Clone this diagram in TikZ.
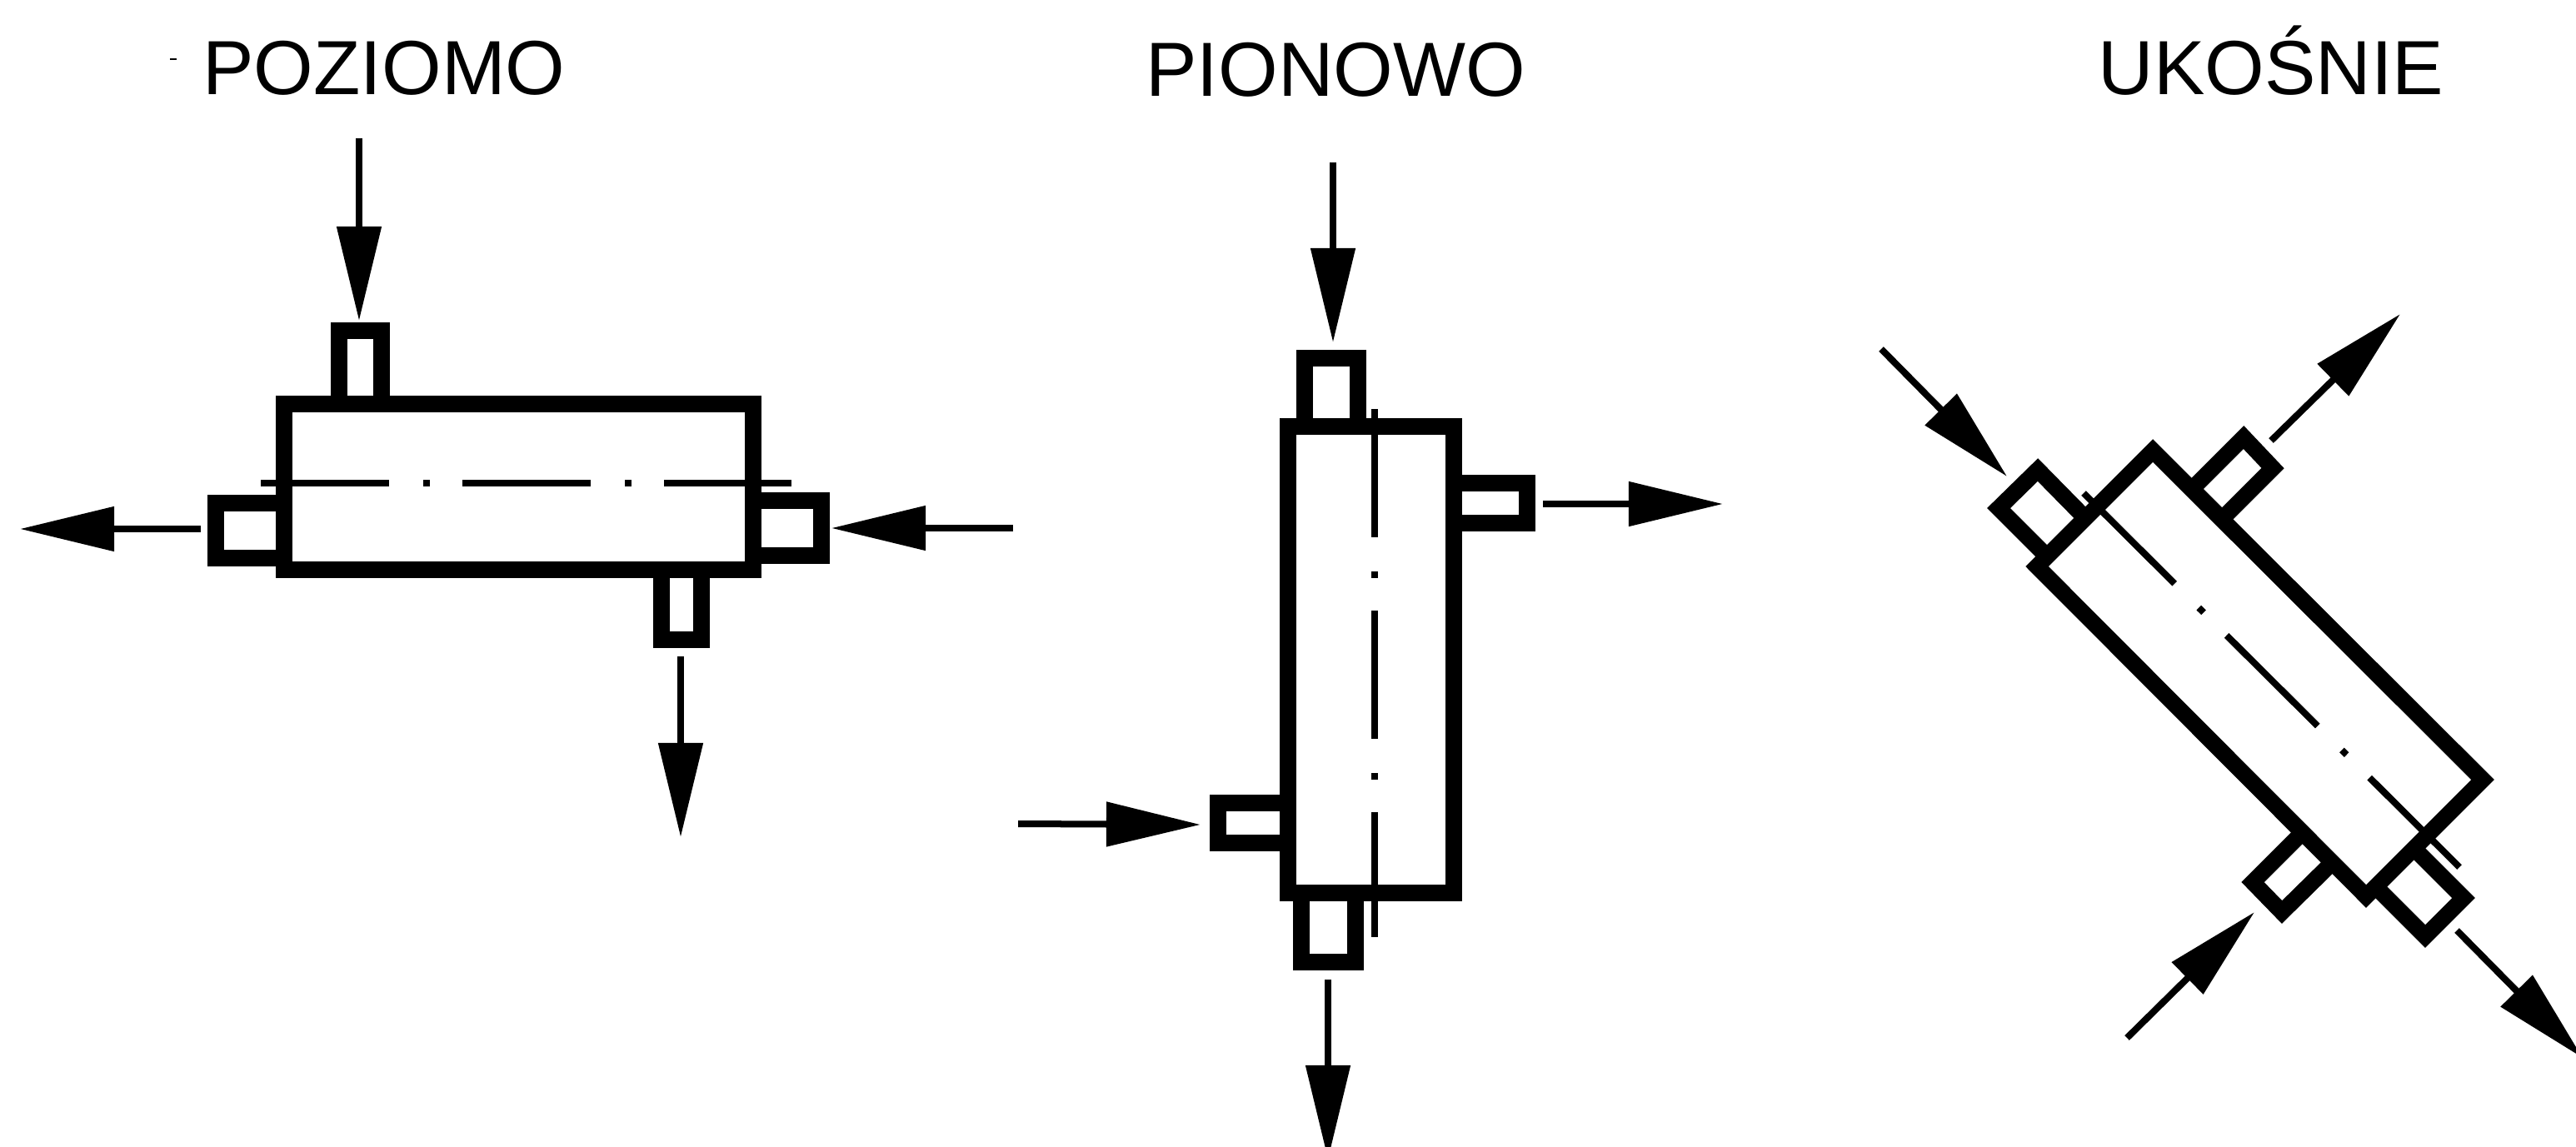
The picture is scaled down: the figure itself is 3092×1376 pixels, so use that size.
\documentclass[tikz,border=0pt]{standalone}
\usepackage{fontspec}
\setmainfont{Liberation Sans}
\usetikzlibrary{arrows.meta}

\begin{document}
\begin{tikzpicture}[x=0.01cm,y=-0.01cm,
        body/.style={line width=0.195cm,line join=miter,fill=white},
        axis/.style={line width=0.08cm,dash pattern=on 1.54cm off 0.41cm on 0.08cm off 0.39cm},
        flow/.style={line width=0.08cm,-{Triangle[length=1.13cm,width=0.52cm]}},
        heading/.style={anchor=base,font=\fontsize{26.2}{30}\selectfont}]
                \useasboundingbox (0,0) rectangle (3092,1376);
                \fill (204,70) rectangle (212,72);

                \node[heading] (poziomo) at (461,114) {POZIOMO};
                \node[heading] (pionowo) at (1603,116) {PIONOWO};
                \node[heading] (ukosnie) at (2726,114) {UKOŚNIE};

                \draw[body] (407,397) rectangle (458,485);
                \draw[body] (259,604) rectangle (341,670);
                \draw[body] (904,601) rectangle (986,667);
                \draw[body] (794,684) rectangle (842,768);
                \draw[body] (341,485) rectangle (904,684);
                \draw[axis] (313,580) -- (950,580);

                \coordinate (poziomoInA) at (431,166);
                \coordinate (poziomoInB) at (431,385);
                \coordinate (poziomoInC) at (1216,634);
                \coordinate (poziomoInD) at (998,634);
                \coordinate (poziomoOutA) at (241,635);
                \coordinate (poziomoOutB) at (24,635);
                \coordinate (poziomoOutC) at (817,788);
                \coordinate (poziomoOutD) at (817,1005);
                \draw[flow] (poziomoInA) -- (poziomoInB);
                \draw[flow] (poziomoInC) -- (poziomoInD);
                \draw[flow] (poziomoOutA) -- (poziomoOutB);
                \draw[flow] (poziomoOutC) -- (poziomoOutD);

                \draw[body] (1566,430) rectangle (1630,512);
                \draw[body] (1745,580) rectangle (1833,628);
                \draw[body] (1462,964) rectangle (1546,1012);
                \draw[body] (1562,1072) rectangle (1627,1155);
                \draw[body] (1546,512) rectangle (1745,1072);
                \draw[axis] (1650,491) -- (1650,1125);

                \coordinate (pionowoInA) at (1600,195);
                \coordinate (pionowoInB) at (1600,411);
                \coordinate (pionowoInC) at (1222,989);
                \coordinate (pionowoInD) at (1441,990);
                \coordinate (pionowoOutA) at (1852,605);
                \coordinate (pionowoOutB) at (2068,605);
                \coordinate (pionowoOutC) at (1594,1176);
                \coordinate (pionowoOutD) at (1594,1392);
                \draw[flow] (pionowoInA) -- (pionowoInB);
                \draw[flow] (pionowoInC) -- (pionowoInD);
                \draw[flow] (pionowoOutA) -- (pionowoOutB);
                \draw[flow] (pionowoOutC) -- (pionowoOutD);

                \draw[body] (2399,610) -- (2446,564) -- (2503,622) -- (2457,668) -- cycle;
                \draw[body] (2693,525) -- (2728,562) -- (2667,623) -- (2631,587) -- cycle;
                \draw[body] (2704,1059) -- (2739,1095) -- (2800,1035) -- (2764,999) -- cycle;
                \draw[body] (2957,1078) -- (2911,1124) -- (2851,1064) -- (2897,1018) -- cycle;
                \draw[body] (2584,541) -- (2980,936) -- (2840,1076) -- (2445,680) -- cycle;
                \draw[axis] (2501,592) -- (2952,1041);

                \coordinate (ukosnieInA) at (2258,419);
                \coordinate (ukosnieInB) at (2409,572);
                \coordinate (ukosnieInC) at (2553,1246);
                \coordinate (ukosnieInD) at (2706,1095);
                \coordinate (ukosnieOutA) at (2726,529);
                \coordinate (ukosnieOutB) at (2881,377);
                \coordinate (ukosnieOutC) at (2949,1117);
                \coordinate (ukosnieOutD) at (3100,1270);
                \draw[flow] (ukosnieInA) -- (ukosnieInB);
                \draw[flow] (ukosnieInC) -- (ukosnieInD);
                \draw[flow] (ukosnieOutA) -- (ukosnieOutB);
                \draw[flow] (ukosnieOutC) -- (ukosnieOutD);
            \end{tikzpicture}
\end{document}
